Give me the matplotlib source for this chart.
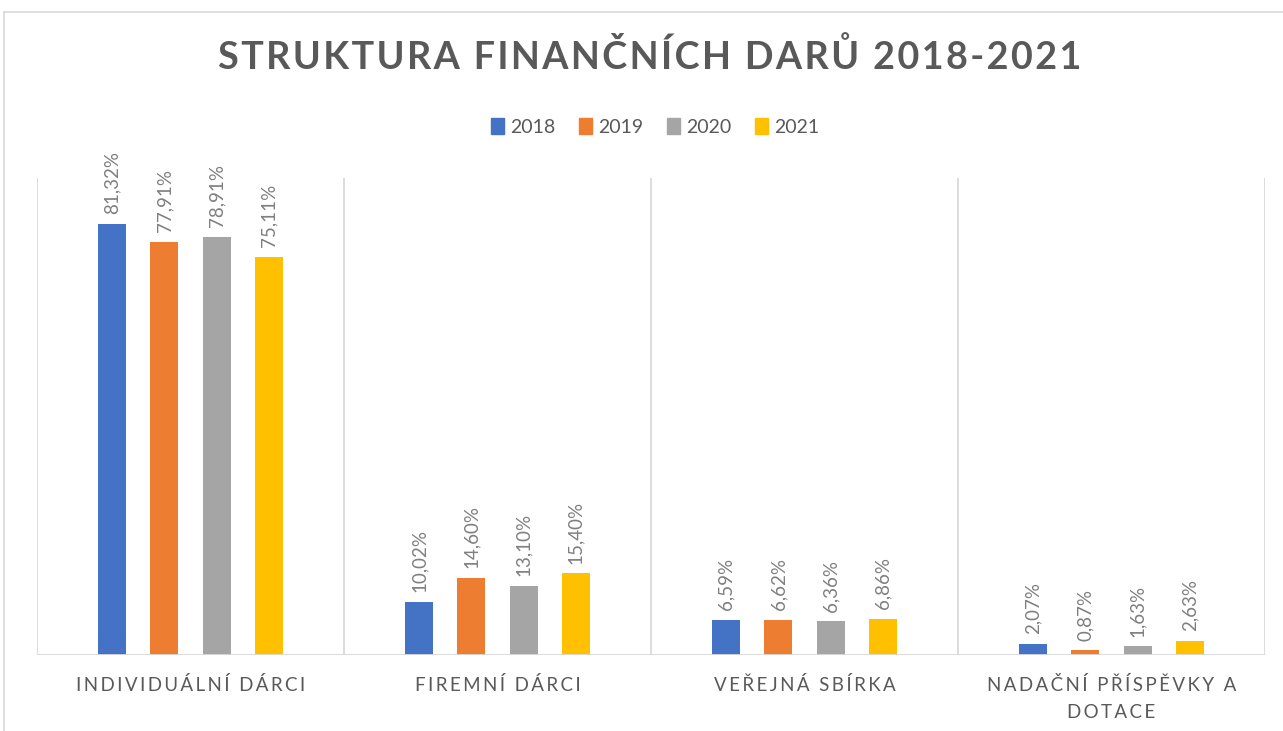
import numpy as np
import matplotlib.pyplot as plt
from matplotlib.patches import Patch

plt.rcParams['font.family'] = ['Lato', 'DejaVu Sans']

categories = ["INDIVIDUÁLNÍ DÁRCI", "FIREMNÍ DÁRCI", "VEŘEJNÁ SBÍRKA", "NADAČNÍ PŘÍSPĚVKY A\nDOTACE"]
years = ["2018", "2019", "2020", "2021"]
v2018 = [81.32, 10.02, 6.59, 2.07]
v2019 = [77.91, 14.60, 6.62, 0.87]
v2020 = [78.91, 13.10, 6.36, 1.63]
v2021 = [75.11, 15.40, 6.86, 2.63]
series = [v2018, v2019, v2020, v2021]
colors = ["#4472C4", "#ED7D31", "#A5A5A5", "#FFC000"]

def spaced(s, sp="\u2009"):
    return "\n".join(sp.join(line) for line in s.split("\n"))

fig = plt.figure(figsize=(12.83, 7.31), dpi=100)
ax = fig.add_axes([37/1283, (731-655)/731, (1265-37)/1283, (655-178)/731])

x = np.arange(len(categories))
w = 0.091
step = 0.17
for i, (vals, c) in enumerate(zip(series, colors)):
    pos = x + (i - 1.5) * step
    ax.bar(pos, vals, width=w, color=c, zorder=3)
    for p, v in zip(pos, vals):
        ax.annotate(f"{v:.2f}%".replace(".", ","), (p, v), xytext=(0, 7),
                    textcoords="offset points", rotation=90, ha="center", va="bottom",
                    fontsize=13.5, color="#7F7F7F")

ax.set_xlim(-0.5, 3.5)
ax.set_ylim(0, 90)
for b in np.arange(-0.5, 4, 1):
    ax.axvline(b, color="#D9D9D9", lw=1.3, zorder=1)
for s in ax.spines.values():
    s.set_visible(False)
ax.axhline(0, color="#D9D9D9", lw=1.3, zorder=4)
ax.set_yticks([])
ax.set_xticks(x)
ax.set_xticklabels([spaced(c) for c in categories], fontsize=13.5, color="#595959", linespacing=1.7)
ax.tick_params(axis="x", length=0, pad=15)

fig.text(650/1283, 1 - 57/731, spaced("STRUKTURA FINANČNÍCH DARŮ 2018-2021", "\u200a"),
         ha="center", va="center", fontsize=27.2, fontweight="bold", color="#595959")

handles = [Patch(color=c) for c in colors]
fig.legend(handles, years, loc="center", bbox_to_anchor=(655/1283, 1 - 127/731), ncol=4,
           frameon=False, fontsize=14, labelcolor="#595959", handlelength=0.7, handleheight=0.9,
           handletextpad=0.3, columnspacing=1.2)

# outer chart border
fig.add_artist(plt.Line2D([4/1283, 4/1283], [0, 1 - 12/731], color="#D9D9D9", lw=1.2))
fig.add_artist(plt.Line2D([4/1283, 1], [1 - 12/731, 1 - 12/731], color="#D9D9D9", lw=1.2))

fig.savefig("out.png", dpi=100)
